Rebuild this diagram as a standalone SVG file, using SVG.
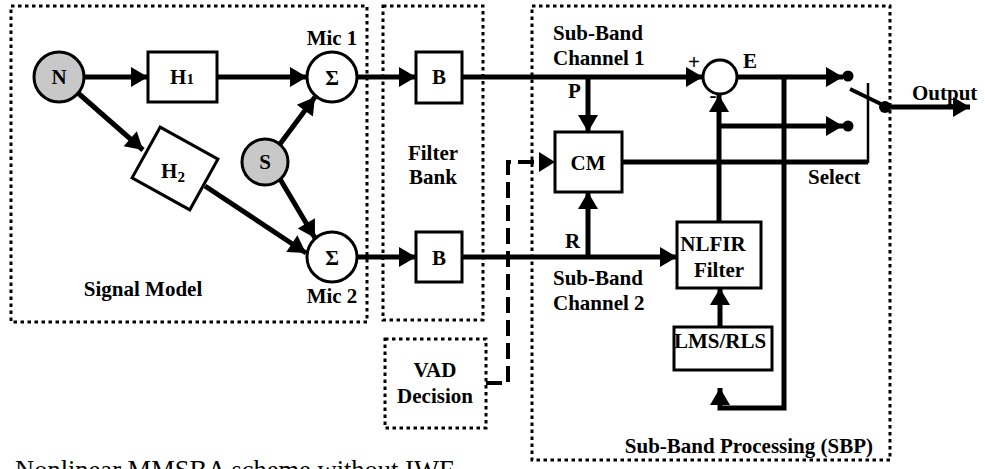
<svg xmlns="http://www.w3.org/2000/svg" width="985" height="469" viewBox="0 0 985 469">
<defs>
<marker id="arr" markerUnits="userSpaceOnUse" markerWidth="17" markerHeight="20" refX="17" refY="10" orient="auto" overflow="visible">
<path d="M0,0 L17,10 L0,20 z" fill="#000"/>
</marker>
<style>
.t{font-family:"Liberation Serif","Times New Roman",serif;font-weight:bold;font-size:21px;fill:#000}
.m{text-anchor:middle}
.box{fill:#fff;stroke:#000;stroke-width:3}
.grey{fill:#c8c8c8;stroke:#000;stroke-width:3}
.dot{fill:none;stroke:#000;stroke-width:3;stroke-dasharray:3.5 3.5}
.c{fill:none;stroke:#000;stroke-width:5}
.a{marker-end:url(#arr)}
.d{fill:none;stroke:#000;stroke-width:4;stroke-dasharray:16 7}
</style>
</defs>
<rect width="985" height="469" fill="#fff"/>

<g id="regions">
<rect class="dot" x="11" y="6" width="356" height="316"/>
<rect class="dot" x="383" y="6" width="100" height="314"/>
<rect class="dot" x="532" y="6" width="358" height="454"/>
<text class="t m" x="143" y="296">Signal Model</text>
<text class="t m" x="433" y="160">Filter</text>
<text class="t m" x="433" y="184">Bank</text>
<text class="t" x="873" y="453" text-anchor="end">Sub-Band Processing (SBP)</text>
</g>

<g id="connectors">
<line class="c a" x1="84" y1="77" x2="148" y2="77"/>
<line class="c a" x1="217" y1="77" x2="307" y2="77"/>
<line class="c a" x1="78" y1="93" x2="143" y2="150"/>
<line class="c a" x1="205" y1="186" x2="306" y2="253"/>
<line class="c a" x1="280" y1="144" x2="315" y2="97"/>
<line class="c a" x1="280" y1="179" x2="315" y2="238"/>
<line class="c a" x1="357" y1="77" x2="416" y2="77"/>
<line class="c a" x1="357" y1="257" x2="416" y2="257"/>
<line class="c a" x1="462" y1="77" x2="703" y2="77"/>
<line class="c a" x1="462" y1="257" x2="677" y2="257"/>
<line class="c a" x1="588" y1="77" x2="588" y2="132"/>
<line class="c a" x1="588" y1="257" x2="588" y2="192"/>
<polyline class="c" points="622,162 868,162"/>
<line stroke="#000" stroke-width="2.5" x1="868" y1="163" x2="868" y2="83"/>
<line class="c a" x1="719" y1="222" x2="719" y2="95"/>
<line class="c a" x1="719" y1="126" x2="843" y2="126"/>
<line class="c a" x1="737" y1="77" x2="843" y2="77"/>
<polyline class="c a" points="784,77 784,408 720,408 720,388"/>
<line class="c a" x1="720" y1="337" x2="720" y2="288"/>
<line stroke="#000" stroke-width="4" x1="850" y1="89" x2="885" y2="106"/>
<line class="c a" x1="885" y1="107" x2="970" y2="107"/>
<polyline class="d" points="486,383 508,383 508,162 541,162"/>
<path d="M539,152 L555,162 L539,172 z" fill="#000"/>
</g>

<g id="N"><circle class="grey" cx="59" cy="77" r="25"/><text class="t m" x="59" y="84">N</text></g>
<g id="H1"><rect class="box" x="148" y="52" width="69" height="50"/><text class="t m" x="182" y="84">H<tspan font-size="15">1</tspan></text></g>
<g id="H2"><rect class="box" x="-33" y="-29" width="66" height="58" transform="translate(175,168.5) rotate(29)"/><text class="t m" x="173" y="178">H<tspan font-size="15" dy="4">2</tspan></text></g>
<g id="S"><circle class="grey" cx="265" cy="162" r="23"/><text class="t m" x="265" y="169">S</text></g>
<g id="Mic1"><circle class="box" cx="332" cy="77" r="25"/><text class="t m" x="332" y="85" font-size="24">Σ</text><text class="t m" x="332" y="45" font-size="19">Mic 1</text></g>
<g id="Mic2"><circle class="box" cx="332" cy="257" r="25"/><text class="t m" x="332" y="265" font-size="24">Σ</text><text class="t m" x="332" y="303" font-size="19">Mic 2</text></g>
<g id="B1"><rect class="box" x="416" y="52" width="46" height="51"/><text class="t m" x="439" y="84">B</text></g>
<g id="B2"><rect class="box" x="416" y="232" width="46" height="50"/><text class="t m" x="439" y="265">B</text></g>
<g id="VAD"><rect class="dot" x="385" y="339" width="101" height="89"/><text class="t m" x="435" y="377">VAD</text><text class="t m" x="435" y="403">Decision</text></g>
<g id="CM"><rect class="box" x="555" y="132" width="67" height="60"/><text class="t m" x="588" y="170">CM</text></g>
<g id="NLFIR"><rect class="box" x="677" y="222" width="84" height="66"/><text class="t m" x="713" y="251">NLFIR</text><text class="t m" x="719" y="277">Filter</text></g>
<g id="LMS"><rect class="box" x="674" y="327" width="98" height="43"/><text class="t m" x="720" y="348">LMS/RLS</text></g>
<g id="adder"><circle class="box" cx="720" cy="77" r="17"/><text class="t m" x="694" y="69">+</text><text class="t m" x="713" y="102">-</text><text class="t" x="743" y="68">E</text></g>
<g id="switch">
<circle cx="848" cy="76" r="5.5" fill="#000"/>
<circle cx="848" cy="126" r="5.5" fill="#000"/>
<circle cx="885" cy="107" r="6" fill="#000"/>
<text class="t" x="912" y="100">Output</text>
<text class="t" x="808" y="184">Select</text>
</g>
<g id="labels">
<text class="t" x="553" y="40">Sub-Band</text>
<text class="t" x="553" y="65">Channel 1</text>
<text class="t" x="568" y="98">P</text>
<text class="t" x="565" y="248">R</text>
<text class="t" x="553" y="285">Sub-Band</text>
<text class="t" x="553" y="310">Channel 2</text>
<text x="15" y="479" font-family="'Liberation Serif','Times New Roman',serif" font-size="26.5">Nonlinear MMSBA scheme without IWF</text>
</g>
</svg>
